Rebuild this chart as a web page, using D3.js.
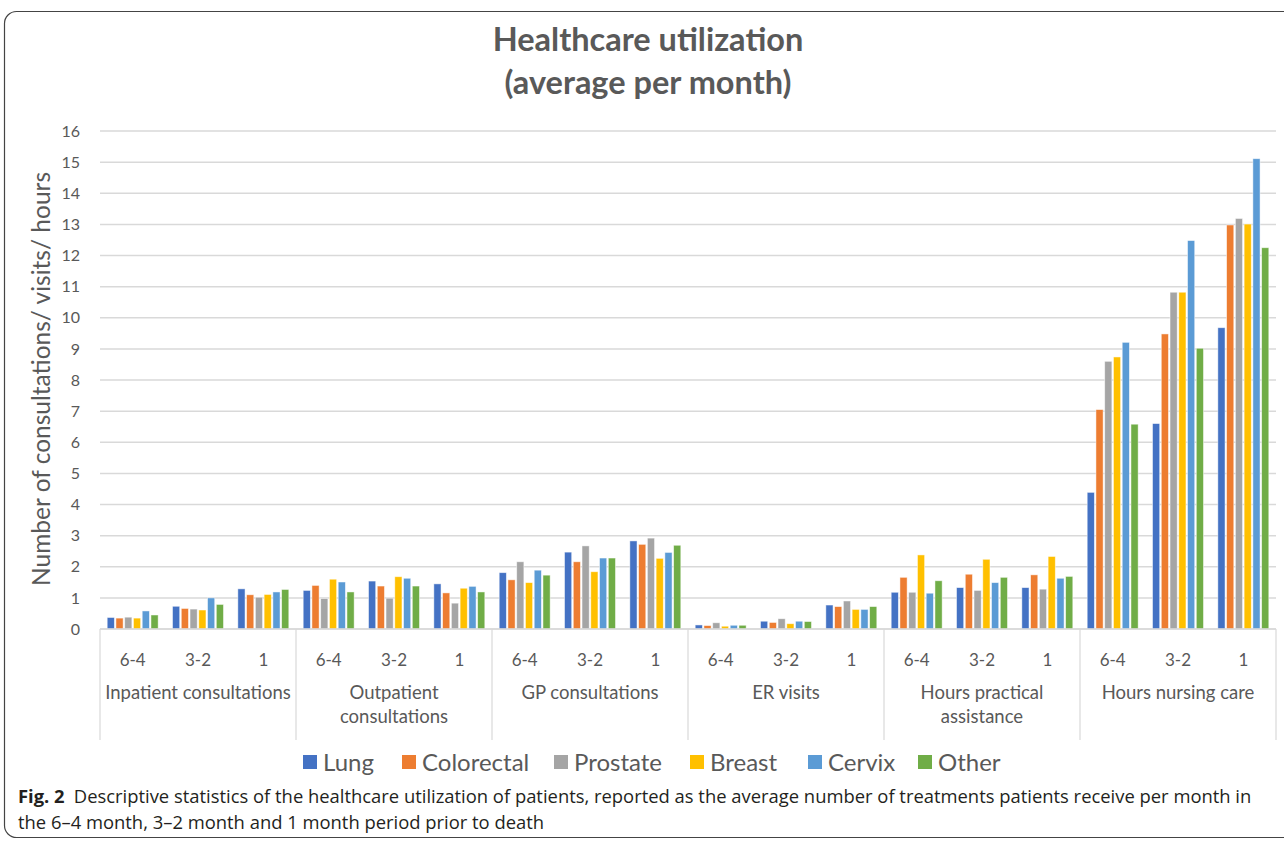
<!DOCTYPE html>
<html>
<head>
<meta charset="utf-8">
<script src="https://cdn.jsdelivr.net/npm/d3@7"></script>
<style>
  body { margin: 0; background: #fff; }
  svg { display: block; }
</style>
</head>
<body>
<script>
const width = 1284;
const height = 841;

// Data
const groups = ["Inpatient consultations", "Outpatient consultations", "GP consultations",
    "ER visits", "Hours practical assistance", "Hours nursing care"];
const groupLines = [["Inpatient consultations"], ["Outpatient", "consultations"], ["GP consultations"],
    ["ER visits"], ["Hours practical", "assistance"], ["Hours nursing care"]];
const periods = ["6-4", "3-2", "1"];
const series = ["Lung", "Colorectal", "Prostate", "Breast", "Cervix", "Other"];
const colors = ["#4472C4", "#ED7D31", "#A5A5A5", "#FFC000", "#5B9BD5", "#70AD47"];
const yTicks = d3.range(0, 17);

// one row per group, one [period] array of series values
const inpatient = [[0.37, 0.35, 0.38, 0.35, 0.58, 0.45], [0.73, 0.66, 0.64, 0.61, 1.00, 0.79], [1.29, 1.10, 1.02, 1.11, 1.19, 1.27]];
const outpatient = [[1.24, 1.40, 0.98, 1.60, 1.51, 1.19], [1.54, 1.38, 0.99, 1.68, 1.63, 1.38], [1.45, 1.16, 0.83, 1.31, 1.37, 1.19]];
const gp = [[1.81, 1.58, 2.16, 1.49, 1.89, 1.73], [2.47, 2.16, 2.67, 1.84, 2.28, 2.28], [2.83, 2.72, 2.92, 2.27, 2.46, 2.69]];
const er = [[0.13, 0.11, 0.20, 0.09, 0.12, 0.12], [0.25, 0.21, 0.33, 0.17, 0.25, 0.24], [0.77, 0.72, 0.90, 0.63, 0.63, 0.72]];
const practical = [[1.18, 1.66, 1.18, 2.38, 1.15, 1.55], [1.33, 1.76, 1.24, 2.24, 1.49, 1.66], [1.33, 1.74, 1.28, 2.33, 1.63, 1.69]];
const nursing = [[4.39, 7.05, 8.60, 8.74, 9.21, 6.58], [6.60, 9.48, 10.82, 10.82, 12.48, 9.02], [9.68, 12.98, 13.19, 13.01, 15.11, 12.25]];
const values = [inpatient, outpatient, gp, er, practical, nursing];

const font = "Lato, 'Open Sans', sans-serif";
const textColor = "#595959";
const margin = {top: 131, right: 8, bottom: 212, left: 100};

const svg = d3.select("body").append("svg")
    .attr("width", width)
    .attr("height", height);

// figure frame
svg.append("rect")
    .attr("x", 4.5).attr("y", 11.5)
    .attr("width", 1300).attr("height", 826)
    .attr("rx", 12)
    .attr("fill", "none")
    .attr("stroke", "#444")
    .attr("stroke-width", 1.2);

// flat list of subgroups (group x period)
const cells = [];
groups.forEach((g, gi) => periods.forEach((p, pi) => {
    cells.push({key: g + "|" + p, group: g, period: p, vals: values[gi][pi]});
}));

const x0 = d3.scaleBand()
    .domain(groups)
    .range([margin.left, width - margin.right]);

const x1 = d3.scaleBand()
    .domain(cells.map(d => d.key))
    .range([margin.left, width - margin.right])
    .paddingInner(0.22)
    .paddingOuter(0.11);

const x2 = d3.scaleBand()
    .domain(series)
    .range([0, x1.bandwidth()])
    .paddingInner(0.18);

const y = d3.scaleLinear()
    .domain([0, 16])
    .range([height - margin.bottom, margin.top]);

// gridlines
svg.append("g")
    .selectAll("line")
    .data(yTicks)
    .join("line")
    .attr("x1", margin.left)
    .attr("x2", width - margin.right)
    .attr("y1", d => y(d))
    .attr("y2", d => y(d))
    .attr("stroke", "#d9d9d9")
    .attr("stroke-width", 1.5);

// left axis labels
const leftAxis = d3.axisLeft(y).tickValues(yTicks).tickSize(0).tickPadding(20);
svg.append("g")
    .attr("transform", `translate(${margin.left}, 0)`)
    .call(leftAxis)
    .call(g => g.select(".domain").remove())
    .call(g => g.selectAll("text")
        .attr("font-family", font)
        .attr("font-size", 16)
        .attr("fill", textColor));

// bars
const cellG = svg.append("g")
    .selectAll("g")
    .data(cells)
    .join("g")
    .attr("transform", d => `translate(${x1(d.key)}, 0)`);

cellG.selectAll("rect")
    .data(d => d.vals.map((v, i) => ({s: series[i], v: v, c: colors[i]})))
    .join("rect")
    .attr("x", d => x2(d.s))
    .attr("y", d => y(d.v))
    .attr("width", x2.bandwidth())
    .attr("height", d => y(0) - y(d.v))
    .attr("fill", d => d.c)
    .attr("stroke", "#fff")
    .attr("stroke-opacity", 0.6)
    .attr("stroke-width", 0.8);

// category axis
const baseY = y(0);
svg.append("line")
    .attr("x1", margin.left).attr("x2", width - margin.right)
    .attr("y1", baseY).attr("y2", baseY)
    .attr("stroke", "#d9d9d9").attr("stroke-width", 1.5);

const sepX = groups.map(g => x0(g)).concat([x0.range()[1]]);
svg.append("g")
    .selectAll("line")
    .data(sepX)
    .join("line")
    .attr("x1", d => d).attr("x2", d => d)
    .attr("y1", baseY).attr("y2", 740)
    .attr("stroke", "#d9d9d9").attr("stroke-width", 1.2);

svg.append("g")
    .selectAll("text")
    .data(cells)
    .join("text")
    .attr("x", d => x1(d.key) + x1.bandwidth() / 2)
    .attr("y", 666)
    .attr("text-anchor", "middle")
    .attr("font-family", font)
    .attr("font-size", 17)
    .attr("fill", textColor)
    .text(d => d.period);

svg.append("g")
    .selectAll("text")
    .data(groups)
    .join("text")
    .attr("x", d => x0(d) + x0.bandwidth() / 2)
    .attr("y", 699)
    .attr("text-anchor", "middle")
    .attr("font-family", font)
    .attr("font-size", 18.5)
    .attr("fill", textColor)
    .selectAll("tspan")
    .data((d, i) => groupLines[i])
    .join("tspan")
    .attr("x", function() { return this.parentNode.getAttribute("x"); })
    .attr("dy", (d, i) => i === 0 ? 0 : 24)
    .text(d => d);

// y axis title
svg.append("text")
    .attr("transform", `translate(50, ${(y(0) + y(16)) / 2 - 1}) rotate(-90)`)
    .attr("text-anchor", "middle")
    .attr("font-family", font)
    .attr("font-size", 24.5)
    .attr("fill", textColor)
    .text("Number of consultations/ visits/ hours");

// title
const title = svg.append("text")
    .attr("text-anchor", "middle")
    .attr("font-family", font)
    .attr("font-weight", "bold")
    .attr("font-size", 32.5)
    .attr("fill", textColor);
title.append("tspan").attr("x", 648).attr("y", 51).text("Healthcare utilization");
title.append("tspan").attr("x", 648).attr("y", 94).text("(average per month)");

// legend
const legendX = [303, 402, 554, 690, 808, 918];
const legend = svg.append("g")
    .selectAll("g")
    .data(series)
    .join("g")
    .attr("transform", (d, i) => `translate(${legendX[i]}, 755)`);
legend.append("rect")
    .attr("width", 14).attr("height", 14)
    .attr("fill", (d, i) => colors[i]);
legend.append("text")
    .attr("x", 20).attr("y", 16)
    .attr("font-family", font)
    .attr("font-size", 24)
    .attr("fill", textColor)
    .text(d => d);

// caption
const cap = svg.append("text")
    .attr("font-family", "'Open Sans', sans-serif")
    .attr("font-size", 18.4)
    .attr("fill", "#231f20");
const line1 = cap.append("tspan").attr("x", 18).attr("y", 803);
line1.append("tspan").attr("font-weight", "bold").text("Fig. 2");
line1.append("tspan").text("\u2002Descriptive statistics of the healthcare utilization of patients, reported as the average number of treatments patients receive per month in");
cap.append("tspan").attr("x", 18).attr("y", 829)
    .text("the 6\u20134 month, 3\u20132 month and 1 month period prior to death");
</script>
</body>
</html>
